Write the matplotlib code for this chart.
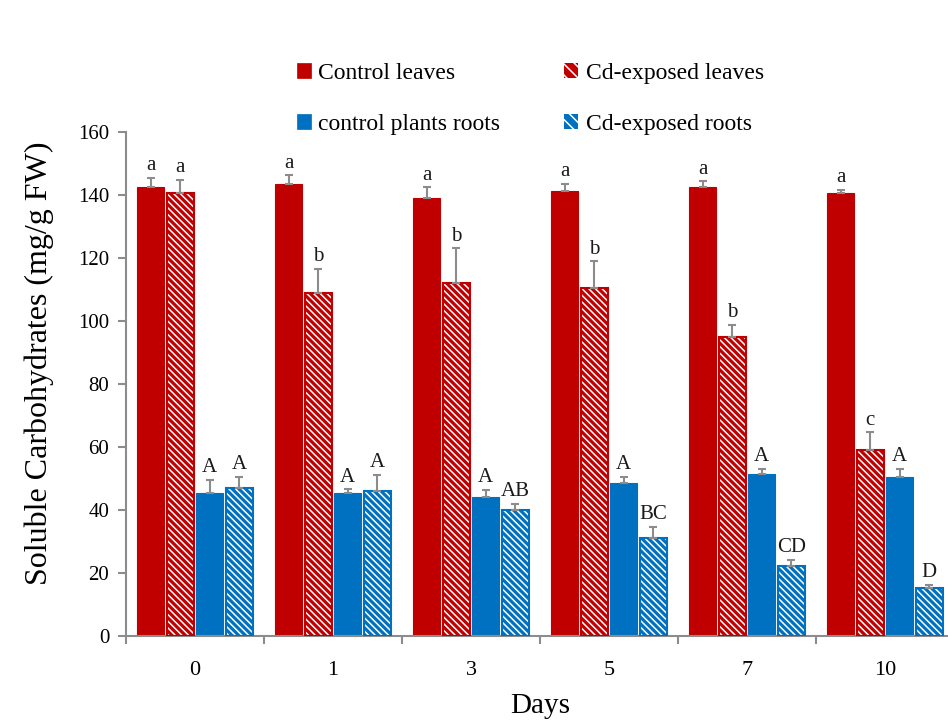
import numpy as np
import matplotlib.pyplot as plt
from matplotlib.patches import Patch

plt.rcParams['font.family'] = ['Liberation Serif', 'DejaVu Serif']
plt.rcParams['hatch.linewidth'] = 1.1

days = ['0', '1', '3', '5', '7', '10']

ctrl_leaves = [142.4, 143.5, 138.9, 141.3, 142.4, 140.5]
ctrl_leaves_err = [3.1, 2.7, 3.5, 2.1, 1.9, 1.0]
cd_leaves = [140.7, 108.7, 112.1, 110.4, 94.9, 59.0]
cd_leaves_err = [4.1, 7.9, 10.9, 8.5, 3.8, 5.6]
ctrl_roots = [45.4, 45.2, 44.2, 48.6, 51.4, 50.3]
ctrl_roots_err = [4.1, 1.3, 2.1, 1.9, 1.5, 2.7]
cd_roots = [46.9, 46.0, 39.9, 31.1, 22.2, 15.2]
cd_roots_err = [3.6, 5.1, 1.9, 3.5, 1.8, 1.0]

ctrl_leaves_lbl = ['a', 'a', 'a', 'a', 'a', 'a']
cd_leaves_lbl = ['a', 'b', 'b', 'b', 'b', 'c']
ctrl_roots_lbl = ['A', 'A', 'A', 'A', 'A', 'A']
cd_roots_lbl = ['A', 'A', 'AB', 'BC', 'CD', 'D']

red = '#C00000'
blue = '#0070C0'
grey = '#8C8C8C'
hatch = '\\' * 5

fig = plt.figure(figsize=(9.48, 7.22), dpi=100)
ax = fig.add_axes([126 / 948, 1 - 635.7 / 722, (954 - 126) / 948, (635.7 - 131.9) / 722])

x = np.arange(len(days))
pitch = 0.214
width = 0.196

series = [
    (ctrl_leaves, ctrl_leaves_err, ctrl_leaves_lbl, red, False),
    (cd_leaves, cd_leaves_err, cd_leaves_lbl, red, True),
    (ctrl_roots, ctrl_roots_err, ctrl_roots_lbl, blue, False),
    (cd_roots, cd_roots_err, cd_roots_lbl, blue, True),
]

for i, (vals, errs, lbls, col, hatched) in enumerate(series):
    pos = x + (i - 1.5) * pitch
    if hatched:
        ax.bar(pos, vals, width, color=col, edgecolor='white', hatch=hatch, linewidth=0, zorder=2)
        ax.bar(pos, vals, width, facecolor='none', edgecolor=col, linewidth=1.5, zorder=3)
    else:
        ax.bar(pos, vals, width, color=col, edgecolor=col, linewidth=0.8, zorder=2)
    ax.errorbar(pos, vals, yerr=[np.zeros(len(errs)), errs], fmt='none', ecolor=grey,
                elinewidth=1.5, capsize=3, capthick=1.5, zorder=4)
    for p, v, e, t in zip(pos, vals, errs, lbls):
        ax.annotate(t, (p, v + e), xytext=(0, 2), textcoords='offset points',
                    ha='center', va='bottom', fontsize=15, color='#1a1a1a')

ax.set_ylim(0, 160)
ax.set_yticks(np.arange(0, 161, 20))
ax.set_xlim(-0.5, len(days) - 0.5)
ax.set_xticks(x)
ax.set_xticklabels(days)
ax.set_xticks(np.arange(-0.5, len(days), 1.0), minor=True)
ax.tick_params(axis='x', which='major', length=0, pad=18, labelsize=16)
ax.tick_params(axis='x', which='minor', length=6, width=1.5, color=grey)
ax.tick_params(axis='y', length=6, width=1.5, color=grey, labelsize=15, pad=6)

for s in ['top', 'right']:
    ax.spines[s].set_visible(False)
for s in ['left', 'bottom']:
    ax.spines[s].set_color(grey)
    ax.spines[s].set_linewidth(1.5)

ax.set_xlabel('Days', fontsize=21)
ax.xaxis.set_label_coords(0.5, -0.113)
ax.set_ylabel('Soluble Carbohydrates (mg/g FW)', fontsize=23)
ax.yaxis.set_label_coords(-0.087, 0.541)

handles = [
    Patch(facecolor=red, edgecolor=red, lw=0.5),
    Patch(facecolor=blue, edgecolor=blue, lw=0.5),
    Patch(facecolor=red, edgecolor='white', hatch='\\\\\\', lw=0),
    Patch(facecolor=blue, edgecolor='white', hatch='\\\\\\', lw=0),
]
names = ['Control leaves', 'control plants roots', 'Cd-exposed leaves', 'Cd-exposed roots']
fig.legend(handles, names, ncol=2, loc='upper left', bbox_to_anchor=(276 / 948, 1 - 42 / 722),
           frameon=False, fontsize=17, handlelength=0.6, handleheight=0.6,
           handletextpad=0.3, columnspacing=2.7, labelspacing=1.25)

fig.savefig('out.png', dpi=100)
